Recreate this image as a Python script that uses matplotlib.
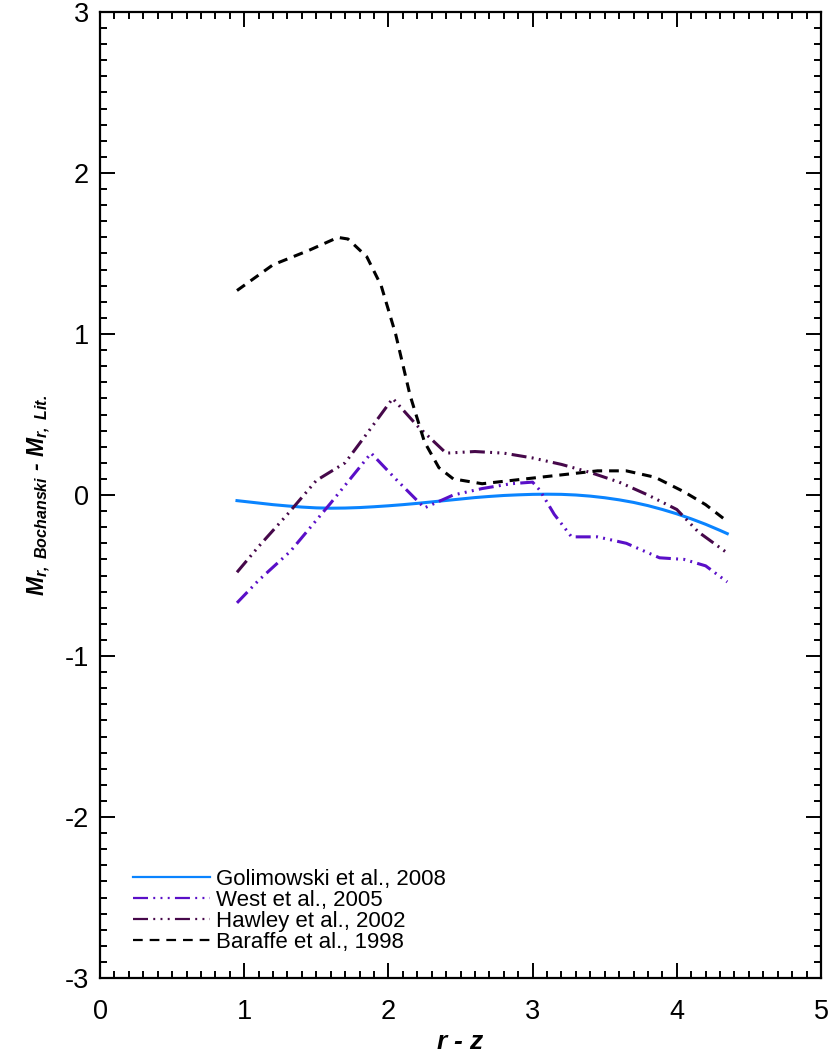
import matplotlib
matplotlib.use("Agg")
import matplotlib.pyplot as plt
from matplotlib.ticker import MultipleLocator

plt.rcParams['font.family'] = ['Liberation Sans', 'DejaVu Sans']
plt.rcParams['mathtext.fontset'] = 'custom'
plt.rcParams['mathtext.it'] = 'Liberation Sans:bold:italic'
plt.rcParams['mathtext.rm'] = 'Liberation Sans:bold:italic'
plt.rcParams['mathtext.bf'] = 'Liberation Sans:bold:italic'
plt.rcParams['lines.scale_dashes'] = False

# ---- data ----
gol_x = [0.95, 1.1, 1.2, 1.3, 1.4, 1.5, 1.6, 1.7, 1.8, 1.9, 2.0, 2.1, 2.2, 2.3, 2.4, 2.5, 2.6, 2.7,
         2.8, 2.9, 3.0, 3.1, 3.2, 3.3, 3.4, 3.5, 3.6, 3.7, 3.8, 3.9, 4.0, 4.1, 4.2, 4.3, 4.35]
gol_y = [-0.035, -0.05, -0.06, -0.068, -0.075, -0.08, -0.082, -0.081, -0.078, -0.073, -0.067, -0.06,
         -0.052, -0.043, -0.034, -0.025, -0.016, -0.009, -0.003, 0.001, 0.004, 0.005, 0.004, 0.0,
         -0.007, -0.017, -0.03, -0.046, -0.066, -0.09, -0.117, -0.148, -0.182, -0.22, -0.24]

west_x = [0.95, 1.1, 1.32, 1.6, 1.88, 2.05, 2.25, 2.45, 2.65, 2.85, 3.0, 3.05, 3.15, 3.27, 3.45, 3.65, 3.88, 4.05, 4.2, 4.35]
west_y = [-0.67, -0.53, -0.35, -0.05, 0.26, 0.10, -0.08, 0.0, 0.04, 0.07, 0.08, 0.03, -0.12, -0.26, -0.26, -0.30, -0.39, -0.40, -0.44, -0.54]

haw_x = [0.95, 1.1, 1.3, 1.5, 1.7, 1.85, 2.03, 2.2, 2.4, 2.6, 2.8, 3.0, 3.2, 3.4, 3.6, 3.8, 4.0, 4.15, 4.35]
haw_y = [-0.48, -0.32, -0.12, 0.09, 0.20, 0.38, 0.60, 0.43, 0.26, 0.27, 0.26, 0.23, 0.19, 0.14, 0.08, 0.0, -0.09, -0.23, -0.36]

bar_x = [0.95, 1.2, 1.45, 1.65, 1.72, 1.85, 1.95, 2.05, 2.15, 2.25, 2.35, 2.45, 2.65, 2.85, 3.05, 3.25, 3.45, 3.65, 3.85, 4.05, 4.2, 4.33]
bar_y = [1.27, 1.43, 1.52, 1.60, 1.59, 1.48, 1.30, 1.00, 0.62, 0.33, 0.17, 0.10, 0.07, 0.09, 0.11, 0.13, 0.15, 0.15, 0.11, 0.02, -0.06, -0.15]

labels = ["Golimowski et al., 2008", "West et al., 2005", "Hawley et al., 2002", "Baraffe et al., 1998"]
colors = ['#0a84ff', '#5a0fc8', '#46084a', '#000000']

xticks = [0, 1, 2, 3, 4, 5]
yticks = [-3, -2, -1, 0, 1, 2, 3]

# ---- figure ----
fig = plt.figure(figsize=(8.33, 10.57), dpi=100)
ax = fig.add_axes([100/833, 1 - 978/1057, 721/833, 966/1057])

ddd = (0, (10.8, 3.8, 1.4, 3.8, 1.4, 3.8, 1.4, 3.8))
lw = 2.2
l1, = ax.plot(gol_x, gol_y, color=colors[0], lw=lw, ls='-', label=labels[0])
l2, = ax.plot(west_x, west_y, color=colors[1], lw=lw, ls=ddd, label=labels[1])
l3, = ax.plot(haw_x, haw_y, color=colors[2], lw=lw, ls=ddd, label=labels[2])
l4, = ax.plot(bar_x, bar_y, color=colors[3], lw=lw, ls=(0, (7, 5)), label=labels[3])

ax.set_xlim(0, 5)
ax.set_ylim(-3, 3)
ax.set_xticks(xticks)
ax.set_yticks(yticks)
ax.set_xticklabels([str(t) for t in xticks])
ax.set_yticklabels([str(t) for t in yticks])
ax.xaxis.set_minor_locator(MultipleLocator(0.1))
ax.yaxis.set_minor_locator(MultipleLocator(0.1))
ax.tick_params(which='both', direction='in', top=True, right=True, width=1.4, color='black')
ax.tick_params(which='major', length=11)
ax.tick_params(which='minor', length=5)
ax.tick_params(axis='x', which='major', labelsize=19.5, pad=15)
ax.tick_params(axis='y', which='major', labelsize=19.5, pad=8)
for s in ax.spines.values():
    s.set_linewidth(1.6)

ax.set_xlabel(r'$r$ - $z$', fontsize=19, fontweight='bold', fontstyle='italic', labelpad=4)
ax.set_ylabel(r'$M_{r,\ Bochanski}$ - $M_{r,\ Lit.}$', fontsize=16.5,
              fontweight='bold', fontstyle='italic', labelpad=8)

leg = ax.legend(handles=[l1, l2, l3, l4], loc='lower left', bbox_to_anchor=(0.046, 0.026),
                frameon=False, fontsize=16, labelspacing=0.0, handlelength=3.45,
                handletextpad=0.3, borderpad=0, borderaxespad=0)
for h in leg.get_lines():
    h.set_linewidth(1.6)

fig.savefig('out.png', dpi=100)
